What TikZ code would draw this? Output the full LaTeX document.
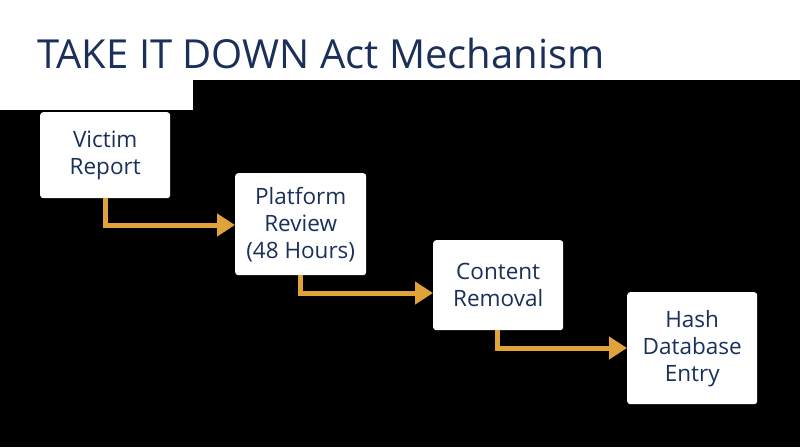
\documentclass[tikz,border=0pt]{standalone}
\usepackage{fontspec}
\setmainfont{Open Sans}
\usetikzlibrary{arrows.meta}
\definecolor{navy}{HTML}{1B2F5B}
\definecolor{gold}{HTML}{E0A33A}
\begin{document}
\begin{tikzpicture}[x=1pt,y=-1pt,
  box/.style={fill=white,rounded corners=3pt,text=navy,align=center,font=\fontsize{22.5}{27}\selectfont,anchor=north west,inner sep=0pt},
  flow/.style={draw=gold,line width=5pt,-{Triangle[length=18pt,width=22pt]}}]
\useasboundingbox (0,0) rectangle (800,447);
\fill[black] (0,80) rectangle (800,447);
\fill[white] (0,80) rectangle (193,110);
\node[anchor=base west,text=navy,font=\fontsize{40}{48}\selectfont,inner sep=0pt] (title) at (37,68) {TAKE IT DOWN Act Mechanism};
\node[box,minimum width=130pt,minimum height=86pt] (a) at (40,112) {Victim\\Report};
\node[box,minimum width=131pt,minimum height=102pt] (b) at (235,173) {Platform\\Review\\(48 Hours)};
\node[box,minimum width=130pt,minimum height=90pt] (c) at (433,240) {Content\\Removal};
\node[box,minimum width=130pt,minimum height=112pt] (d) at (627,292) {Hash\\Database\\Entry};
\draw[flow] (a.south west)++(65,0) |- (b.west|-0,225);
\draw[flow] (b.south west)++(65,0) |- (c.west|-0,293);
\draw[flow] (c.south west)++(64,0) |- (d.west|-0,348);
\end{tikzpicture}
\end{document}
